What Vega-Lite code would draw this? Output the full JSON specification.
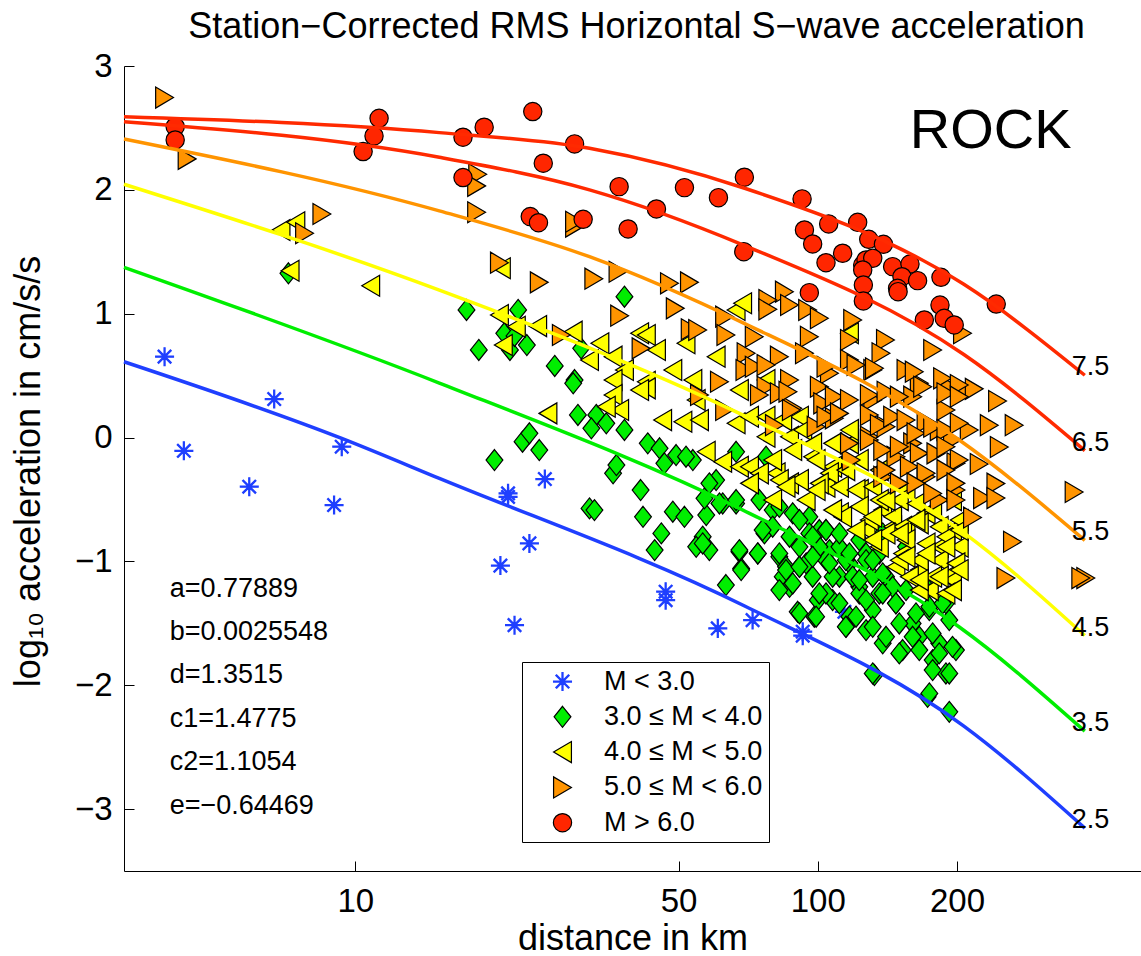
{
"$schema":"https://vega.github.io/schema/vega-lite/v6.json",
"width":1017,"height":805,
"autosize":{"type":"none"},
"padding":{"left":124,"top":66,"right":0,"bottom":85},
"background":"white",
"config":{"view":{"stroke":null},"font":"Liberation Sans"},
"title":{"text":"Station−Corrected RMS Horizontal S−wave acceleration","fontSize":36,"fontWeight":"normal","color":"black","frame":"group","anchor":"middle","baseline":"alphabetic","offset":-24,"dx":4},
"encoding":{
 "x":{"field":"km","type":"quantitative","scale":{"type":"log","domain":[3.1623,500],"nice":false},
  "axis":{"title":"distance in km","values":[10,50,100,200],"format":"d","grid":false,"labelFontSize":33,"titleFontSize":36,"titleFontWeight":"normal","tickSize":-10,"labelPadding":24,"domainColor":"black","tickColor":"black","labelColor":"black","titleColor":"black","titleBaseline":"alphabetic","titleY":78,"labelFlush":false}},
 "y":{"field":"acc","type":"quantitative","scale":{"domain":[-3.5,3],"nice":false},
  "axis":{"title":"log₁₀ acceleration in cm/s/s","values":[-3,-2,-1,0,1,2,3],"format":"d","grid":false,"labelFontSize":33,"titleFontSize":36,"titleFontWeight":"normal","tickSize":-10,"labelPadding":22,"domainColor":"black","tickColor":"black","labelColor":"black","titleColor":"black","titleBaseline":"alphabetic","titleX":-85,"titleY":405,"titleAngle":-90}}
},
"layer":[
{"data":{"values":[
{"km":3.87,"acc":0.653,"cls":"M < 3.0"},{"km":4.26,"acc":-0.107,"cls":"M < 3.0"},{"km":6.68,"acc":0.311,"cls":"M < 3.0"},{"km":5.90,"acc":-0.397,"cls":"M < 3.0"},{"km":9.00,"acc":-0.545,"cls":"M < 3.0"},{"km":9.35,"acc":-0.074,"cls":"M < 3.0"},{"km":21.4,"acc":-0.451,"cls":"M < 3.0"},{"km":21.4,"acc":-0.48,"cls":"M < 3.0"},{"km":25.7,"acc":-0.335,"cls":"M < 3.0"},{"km":23.8,"acc":-0.855,"cls":"M < 3.0"},{"km":20.6,"acc":-1.034,"cls":"M < 3.0"},{"km":22.1,"acc":-1.515,"cls":"M < 3.0"},{"km":46.9,"acc":-1.245,"cls":"M < 3.0"},{"km":46.9,"acc":-1.313,"cls":"M < 3.0"},{"km":60.8,"acc":-1.541,"cls":"M < 3.0"},{"km":72.3,"acc":-1.474,"cls":"M < 3.0"},{"km":92.8,"acc":-1.568,"cls":"M < 3.0"},{"km":92.8,"acc":-1.6,"cls":"M < 3.0"},{"km":114.2,"acc":-1.407,"cls":"M < 3.0"},
{"km":7.17,"acc":1.326,"cls":"3.0 ≤ M < 4.0"},{"km":38.2,"acc":1.137,"cls":"3.0 ≤ M < 4.0"},{"km":17.4,"acc":1.03,"cls":"3.0 ≤ M < 4.0"},{"km":22.5,"acc":1.03,"cls":"3.0 ≤ M < 4.0"},{"km":21.0,"acc":0.842,"cls":"3.0 ≤ M < 4.0"},{"km":18.5,"acc":0.707,"cls":"3.0 ≤ M < 4.0"},{"km":21.6,"acc":0.707,"cls":"3.0 ≤ M < 4.0"},{"km":23.5,"acc":0.747,"cls":"3.0 ≤ M < 4.0"},{"km":27.0,"acc":0.578,"cls":"3.0 ≤ M < 4.0"},{"km":29.8,"acc":0.464,"cls":"3.0 ≤ M < 4.0"},{"km":30.8,"acc":0.72,"cls":"3.0 ≤ M < 4.0"},{"km":22.1,"acc":0.82,"cls":"3.0 ≤ M < 4.0"},{"km":20.0,"acc":-0.182,"cls":"3.0 ≤ M < 4.0"},{"km":23.0,"acc":-0.034,"cls":"3.0 ≤ M < 4.0"},{"km":23.8,"acc":0.034,"cls":"3.0 ≤ M < 4.0"},{"km":25.0,"acc":-0.101,"cls":"3.0 ≤ M < 4.0"},{"km":30.3,"acc":0.182,"cls":"3.0 ≤ M < 4.0"},{"km":33.2,"acc":0.182,"cls":"3.0 ≤ M < 4.0"},{"km":32.4,"acc":0.074,"cls":"3.0 ≤ M < 4.0"},{"km":34.9,"acc":0.115,"cls":"3.0 ≤ M < 4.0"},{"km":38.2,"acc":0.061,"cls":"3.0 ≤ M < 4.0"},{"km":29.6,"acc":0.438,"cls":"3.0 ≤ M < 4.0"},{"km":36.1,"acc":-0.289,"cls":"3.0 ≤ M < 4.0"},{"km":36.7,"acc":-0.222,"cls":"3.0 ≤ M < 4.0"},{"km":32.1,"acc":-0.572,"cls":"3.0 ≤ M < 4.0"},{"km":32.9,"acc":-0.586,"cls":"3.0 ≤ M < 4.0"},{"km":41.4,"acc":-0.424,"cls":"3.0 ≤ M < 4.0"},{"km":41.9,"acc":-0.64,"cls":"3.0 ≤ M < 4.0"},{"km":42.9,"acc":-0.047,"cls":"3.0 ≤ M < 4.0"},{"km":45.5,"acc":-0.087,"cls":"3.0 ≤ M < 4.0"},{"km":46.6,"acc":-0.208,"cls":"3.0 ≤ M < 4.0"},{"km":49.4,"acc":-0.141,"cls":"3.0 ≤ M < 4.0"},{"km":45.9,"acc":-0.774,"cls":"3.0 ≤ M < 4.0"},{"km":44.4,"acc":-0.909,"cls":"3.0 ≤ M < 4.0"},{"km":48.6,"acc":-0.599,"cls":"3.0 ≤ M < 4.0"},{"km":51.5,"acc":-0.64,"cls":"3.0 ≤ M < 4.0"},{"km":56.4,"acc":-0.801,"cls":"3.0 ≤ M < 4.0"},{"km":58.3,"acc":-0.909,"cls":"3.0 ≤ M < 4.0"},{"km":54.6,"acc":-0.882,"cls":"3.0 ≤ M < 4.0"},{"km":57.4,"acc":-0.626,"cls":"3.0 ≤ M < 4.0"},{"km":56.9,"acc":-0.491,"cls":"3.0 ≤ M < 4.0"},{"km":63.3,"acc":-1.191,"cls":"3.0 ≤ M < 4.0"},{"km":67.7,"acc":-0.922,"cls":"3.0 ≤ M < 4.0"},{"km":68.3,"acc":-1.057,"cls":"3.0 ≤ M < 4.0"},{"km":66.6,"acc":-0.532,"cls":"3.0 ≤ M < 4.0"},{"km":62.3,"acc":-0.532,"cls":"3.0 ≤ M < 4.0"},{"km":53.7,"acc":-0.182,"cls":"3.0 ≤ M < 4.0"},{"km":51.9,"acc":-0.155,"cls":"3.0 ≤ M < 4.0"},{"km":66.6,"acc":-0.115,"cls":"3.0 ≤ M < 4.0"},{"km":60.3,"acc":-0.343,"cls":"3.0 ≤ M < 4.0"},{"km":76.7,"acc":-0.774,"cls":"3.0 ≤ M < 4.0"},{"km":74.2,"acc":-0.936,"cls":"3.0 ≤ M < 4.0"},{"km":84.0,"acc":-1.124,"cls":"3.0 ≤ M < 4.0"},{"km":86.9,"acc":-1.205,"cls":"3.0 ≤ M < 4.0"},{"km":90.5,"acc":-1.407,"cls":"3.0 ≤ M < 4.0"},{"km":98.3,"acc":-1.447,"cls":"3.0 ≤ M < 4.0"},{"km":100,"acc":-1.313,"cls":"3.0 ≤ M < 4.0"},{"km":82.6,"acc":-0.963,"cls":"3.0 ≤ M < 4.0"},{"km":91.3,"acc":-1.044,"cls":"3.0 ≤ M < 4.0"},{"km":100.8,"acc":-0.747,"cls":"3.0 ≤ M < 4.0"},{"km":95.9,"acc":-0.64,"cls":"3.0 ≤ M < 4.0"},{"km":79.9,"acc":-0.586,"cls":"3.0 ≤ M < 4.0"},{"km":74.8,"acc":-0.505,"cls":"3.0 ≤ M < 4.0"},{"km":106.0,"acc":-0.909,"cls":"3.0 ≤ M < 4.0"},{"km":111.4,"acc":-1.124,"cls":"3.0 ≤ M < 4.0"},{"km":107.7,"acc":-1.313,"cls":"3.0 ≤ M < 4.0"},{"km":117.1,"acc":-1.016,"cls":"3.0 ≤ M < 4.0"},{"km":127.2,"acc":-0.936,"cls":"3.0 ≤ M < 4.0"},{"km":123.0,"acc":-1.205,"cls":"3.0 ≤ M < 4.0"},{"km":117.1,"acc":-1.447,"cls":"3.0 ≤ M < 4.0"},{"km":115.2,"acc":-1.528,"cls":"3.0 ≤ M < 4.0"},{"km":127.2,"acc":-1.555,"cls":"3.0 ≤ M < 4.0"},{"km":135.9,"acc":-1.259,"cls":"3.0 ≤ M < 4.0"},{"km":131.5,"acc":-1.393,"cls":"3.0 ≤ M < 4.0"},{"km":140.5,"acc":-1.124,"cls":"3.0 ≤ M < 4.0"},{"km":147.6,"acc":-1.339,"cls":"3.0 ≤ M < 4.0"},{"km":138.2,"acc":-1.662,"cls":"3.0 ≤ M < 4.0"},{"km":152.6,"acc":-1.716,"cls":"3.0 ≤ M < 4.0"},{"km":160.4,"acc":-1.501,"cls":"3.0 ≤ M < 4.0"},{"km":165.8,"acc":-1.609,"cls":"3.0 ≤ M < 4.0"},{"km":177.2,"acc":-1.797,"cls":"3.0 ≤ M < 4.0"},{"km":189.3,"acc":-1.905,"cls":"3.0 ≤ M < 4.0"},{"km":183.1,"acc":-1.662,"cls":"3.0 ≤ M < 4.0"},{"km":199.0,"acc":-1.716,"cls":"3.0 ≤ M < 4.0"},{"km":174.3,"acc":-1.393,"cls":"3.0 ≤ M < 4.0"},{"km":189.3,"acc":-1.339,"cls":"3.0 ≤ M < 4.0"},{"km":171.5,"acc":-1.205,"cls":"3.0 ≤ M < 4.0"},{"km":132.6,"acc":-1.918,"cls":"3.0 ≤ M < 4.0"},{"km":172.8,"acc":-2.094,"cls":"3.0 ≤ M < 4.0"},{"km":192.5,"acc":-2.215,"cls":"3.0 ≤ M < 4.0"},{"km":138.2,"acc":-0.774,"cls":"3.0 ≤ M < 4.0"},{"km":155.2,"acc":-0.882,"cls":"3.0 ≤ M < 4.0"},
{"km":77.3,"acc":-0.155,"cls":"3.0 ≤ M < 4.0"},{"km":82.6,"acc":-0.559,"cls":"3.0 ≤ M < 4.0"},{"km":88.3,"acc":-0.612,"cls":"3.0 ≤ M < 4.0"},{"km":79.9,"acc":-0.72,"cls":"3.0 ≤ M < 4.0"},{"km":86.9,"acc":-0.801,"cls":"3.0 ≤ M < 4.0"},{"km":95.9,"acc":-0.774,"cls":"3.0 ≤ M < 4.0"},{"km":104.2,"acc":-0.747,"cls":"3.0 ≤ M < 4.0"},{"km":82.6,"acc":-0.936,"cls":"3.0 ≤ M < 4.0"},{"km":91.3,"acc":-0.882,"cls":"3.0 ≤ M < 4.0"},{"km":100.8,"acc":-0.882,"cls":"3.0 ≤ M < 4.0"},{"km":111.4,"acc":-0.882,"cls":"3.0 ≤ M < 4.0"},{"km":123.0,"acc":-0.828,"cls":"3.0 ≤ M < 4.0"},{"km":85.4,"acc":-1.044,"cls":"3.0 ≤ M < 4.0"},{"km":94.4,"acc":-1.016,"cls":"3.0 ≤ M < 4.0"},{"km":104.2,"acc":-0.99,"cls":"3.0 ≤ M < 4.0"},{"km":115.0,"acc":-0.99,"cls":"3.0 ≤ M < 4.0"},{"km":127.2,"acc":-0.99,"cls":"3.0 ≤ M < 4.0"},{"km":135.9,"acc":-0.936,"cls":"3.0 ≤ M < 4.0"},{"km":88.3,"acc":-1.178,"cls":"3.0 ≤ M < 4.0"},{"km":97.5,"acc":-1.124,"cls":"3.0 ≤ M < 4.0"},{"km":107.7,"acc":-1.124,"cls":"3.0 ≤ M < 4.0"},{"km":119.0,"acc":-1.124,"cls":"3.0 ≤ M < 4.0"},{"km":131.5,"acc":-1.124,"cls":"3.0 ≤ M < 4.0"},{"km":145.2,"acc":-1.205,"cls":"3.0 ≤ M < 4.0"},{"km":82.6,"acc":-1.232,"cls":"3.0 ≤ M < 4.0"},{"km":104.2,"acc":-1.259,"cls":"3.0 ≤ M < 4.0"},{"km":123.0,"acc":-1.259,"cls":"3.0 ≤ M < 4.0"},
{"km":58.3,"acc":-0.37,"cls":"3.0 ≤ M < 4.0"},{"km":61.3,"acc":-0.532,"cls":"3.0 ≤ M < 4.0"},{"km":66.6,"acc":-0.505,"cls":"3.0 ≤ M < 4.0"},{"km":56.4,"acc":-0.855,"cls":"3.0 ≤ M < 4.0"},{"km":67.7,"acc":-0.909,"cls":"3.0 ≤ M < 4.0"},{"km":74.2,"acc":-0.936,"cls":"3.0 ≤ M < 4.0"},{"km":68.3,"acc":-1.07,"cls":"3.0 ≤ M < 4.0"},{"km":76.0,"acc":-0.747,"cls":"3.0 ≤ M < 4.0"},{"km":91.3,"acc":-0.666,"cls":"3.0 ≤ M < 4.0"},{"km":85.4,"acc":-1.07,"cls":"3.0 ≤ M < 4.0"},{"km":91.3,"acc":-1.044,"cls":"3.0 ≤ M < 4.0"},{"km":97.5,"acc":-0.801,"cls":"3.0 ≤ M < 4.0"},{"km":97.5,"acc":-0.963,"cls":"3.0 ≤ M < 4.0"},{"km":104.2,"acc":-0.747,"cls":"3.0 ≤ M < 4.0"},{"km":106.0,"acc":-1.016,"cls":"3.0 ≤ M < 4.0"},{"km":111.4,"acc":-0.774,"cls":"3.0 ≤ M < 4.0"},{"km":117.1,"acc":-0.936,"cls":"3.0 ≤ M < 4.0"},{"km":123.0,"acc":-1.151,"cls":"3.0 ≤ M < 4.0"},{"km":131.5,"acc":-0.99,"cls":"3.0 ≤ M < 4.0"},{"km":138.2,"acc":-1.097,"cls":"3.0 ≤ M < 4.0"},{"km":100.8,"acc":-1.259,"cls":"3.0 ≤ M < 4.0"},{"km":91.3,"acc":-1.42,"cls":"3.0 ≤ M < 4.0"},{"km":99.2,"acc":-1.447,"cls":"3.0 ≤ M < 4.0"},{"km":111.4,"acc":-1.339,"cls":"3.0 ≤ M < 4.0"},{"km":115.0,"acc":-1.528,"cls":"3.0 ≤ M < 4.0"},{"km":121.0,"acc":-1.447,"cls":"3.0 ≤ M < 4.0"},{"km":127.2,"acc":-1.313,"cls":"3.0 ≤ M < 4.0"},{"km":138.2,"acc":-1.259,"cls":"3.0 ≤ M < 4.0"},{"km":147.6,"acc":-1.339,"cls":"3.0 ≤ M < 4.0"},{"km":155.2,"acc":-1.232,"cls":"3.0 ≤ M < 4.0"},{"km":131.5,"acc":-1.528,"cls":"3.0 ≤ M < 4.0"},{"km":140.5,"acc":-1.609,"cls":"3.0 ≤ M < 4.0"},{"km":150.1,"acc":-1.501,"cls":"3.0 ≤ M < 4.0"},{"km":163.1,"acc":-1.42,"cls":"3.0 ≤ M < 4.0"},{"km":174.3,"acc":-1.367,"cls":"3.0 ≤ M < 4.0"},{"km":186.2,"acc":-1.339,"cls":"3.0 ≤ M < 4.0"},{"km":192.5,"acc":-1.474,"cls":"3.0 ≤ M < 4.0"},{"km":160.4,"acc":-1.609,"cls":"3.0 ≤ M < 4.0"},{"km":177.2,"acc":-1.582,"cls":"3.0 ≤ M < 4.0"},{"km":183.1,"acc":-1.743,"cls":"3.0 ≤ M < 4.0"},{"km":195.6,"acc":-1.69,"cls":"3.0 ≤ M < 4.0"},{"km":150.1,"acc":-1.743,"cls":"3.0 ≤ M < 4.0"},{"km":165.8,"acc":-1.716,"cls":"3.0 ≤ M < 4.0"},{"km":177.2,"acc":-1.878,"cls":"3.0 ≤ M < 4.0"},{"km":192.5,"acc":-1.905,"cls":"3.0 ≤ M < 4.0"},{"km":131.5,"acc":-1.905,"cls":"3.0 ≤ M < 4.0"},{"km":174.3,"acc":-2.066,"cls":"3.0 ≤ M < 4.0"},
{"km":6.91,"acc":1.676,"cls":"4.0 ≤ M < 5.0"},{"km":7.44,"acc":1.738,"cls":"4.0 ≤ M < 5.0"},{"km":7.23,"acc":1.347,"cls":"4.0 ≤ M < 5.0"},{"km":10.8,"acc":1.226,"cls":"4.0 ≤ M < 5.0"},{"km":20.7,"acc":1.367,"cls":"4.0 ≤ M < 5.0"},{"km":66.6,"acc":1.03,"cls":"4.0 ≤ M < 5.0"},{"km":20.5,"acc":0.99,"cls":"4.0 ≤ M < 5.0"},{"km":22.3,"acc":0.895,"cls":"4.0 ≤ M < 5.0"},{"km":24.8,"acc":0.9,"cls":"4.0 ≤ M < 5.0"},{"km":20.9,"acc":0.747,"cls":"4.0 ≤ M < 5.0"},{"km":29.6,"acc":0.855,"cls":"4.0 ≤ M < 5.0"},{"km":33.8,"acc":0.761,"cls":"4.0 ≤ M < 5.0"},{"km":36.1,"acc":0.653,"cls":"4.0 ≤ M < 5.0"},{"km":32.1,"acc":0.626,"cls":"4.0 ≤ M < 5.0"},{"km":41.2,"acc":0.842,"cls":"4.0 ≤ M < 5.0"},{"km":44.8,"acc":0.707,"cls":"4.0 ≤ M < 5.0"},{"km":51.9,"acc":0.761,"cls":"4.0 ≤ M < 5.0"},{"km":60.3,"acc":0.653,"cls":"4.0 ≤ M < 5.0"},{"km":38.2,"acc":0.545,"cls":"4.0 ≤ M < 5.0"},{"km":48.6,"acc":0.545,"cls":"4.0 ≤ M < 5.0"},{"km":42.6,"acc":0.451,"cls":"4.0 ≤ M < 5.0"},{"km":36.1,"acc":0.464,"cls":"4.0 ≤ M < 5.0"},{"km":53.7,"acc":0.464,"cls":"4.0 ≤ M < 5.0"},{"km":42.6,"acc":0.828,"cls":"4.0 ≤ M < 5.0"},{"km":26.1,"acc":0.195,"cls":"4.0 ≤ M < 5.0"},{"km":36.1,"acc":0.343,"cls":"4.0 ≤ M < 5.0"},{"km":37.3,"acc":0.222,"cls":"4.0 ≤ M < 5.0"},{"km":46.2,"acc":0.141,"cls":"4.0 ≤ M < 5.0"},{"km":51.1,"acc":0.128,"cls":"4.0 ≤ M < 5.0"},{"km":55.5,"acc":0.141,"cls":"4.0 ≤ M < 5.0"},{"km":57.4,"acc":-0.115,"cls":"4.0 ≤ M < 5.0"},{"km":62.3,"acc":-0.195,"cls":"4.0 ≤ M < 5.0"},{"km":67.7,"acc":-0.236,"cls":"4.0 ≤ M < 5.0"},{"km":42.6,"acc":0.397,"cls":"4.0 ≤ M < 5.0"},{"km":54.6,"acc":0.303,"cls":"4.0 ≤ M < 5.0"},{"km":66.6,"acc":0.115,"cls":"4.0 ≤ M < 5.0"},{"km":67.7,"acc":0.384,"cls":"4.0 ≤ M < 5.0"},{"km":41.2,"acc":0.384,"cls":"4.0 ≤ M < 5.0"},{"km":34.9,"acc":0.249,"cls":"4.0 ≤ M < 5.0"},{"km":71.2,"acc":0.168,"cls":"4.0 ≤ M < 5.0"},{"km":77.3,"acc":0.006,"cls":"4.0 ≤ M < 5.0"},{"km":71.2,"acc":-0.236,"cls":"4.0 ≤ M < 5.0"},{"km":86.9,"acc":0.006,"cls":"4.0 ≤ M < 5.0"},{"km":91.3,"acc":0.168,"cls":"4.0 ≤ M < 5.0"},{"km":97.5,"acc":-0.155,"cls":"4.0 ≤ M < 5.0"},{"km":86.9,"acc":-0.37,"cls":"4.0 ≤ M < 5.0"},{"km":81.3,"acc":-0.289,"cls":"4.0 ≤ M < 5.0"},{"km":104.2,"acc":-0.397,"cls":"4.0 ≤ M < 5.0"},{"km":111.4,"acc":-0.612,"cls":"4.0 ≤ M < 5.0"},{"km":127.2,"acc":-0.747,"cls":"4.0 ≤ M < 5.0"},{"km":138.2,"acc":-0.586,"cls":"4.0 ≤ M < 5.0"},{"km":123.0,"acc":-0.424,"cls":"4.0 ≤ M < 5.0"},{"km":135.9,"acc":-0.263,"cls":"4.0 ≤ M < 5.0"},{"km":155.2,"acc":-0.424,"cls":"4.0 ≤ M < 5.0"},{"km":171.5,"acc":-0.612,"cls":"4.0 ≤ M < 5.0"},{"km":183.1,"acc":-0.882,"cls":"4.0 ≤ M < 5.0"},{"km":152.6,"acc":-0.936,"cls":"4.0 ≤ M < 5.0"},{"km":165.8,"acc":-1.07,"cls":"4.0 ≤ M < 5.0"},{"km":189.3,"acc":-1.124,"cls":"4.0 ≤ M < 5.0"},{"km":174.3,"acc":-1.232,"cls":"4.0 ≤ M < 5.0"},{"km":147.6,"acc":-1.044,"cls":"4.0 ≤ M < 5.0"},{"km":155.2,"acc":-0.747,"cls":"4.0 ≤ M < 5.0"},{"km":195.6,"acc":-0.747,"cls":"4.0 ≤ M < 5.0"},{"km":117.1,"acc":-0.047,"cls":"4.0 ≤ M < 5.0"},{"km":107.7,"acc":-0.236,"cls":"4.0 ≤ M < 5.0"},{"km":94.4,"acc":-0.505,"cls":"4.0 ≤ M < 5.0"},{"km":79.9,"acc":-0.505,"cls":"4.0 ≤ M < 5.0"},{"km":74.8,"acc":-0.289,"cls":"4.0 ≤ M < 5.0"},{"km":135.9,"acc":-0.882,"cls":"4.0 ≤ M < 5.0"},{"km":145.2,"acc":-0.72,"cls":"4.0 ≤ M < 5.0"},{"km":68.8,"acc":1.084,"cls":"4.0 ≤ M < 5.0"},{"km":117.1,"acc":0.842,"cls":"4.0 ≤ M < 5.0"},
{"km":77.3,"acc":0.464,"cls":"4.0 ≤ M < 5.0"},{"km":77.3,"acc":0.168,"cls":"4.0 ≤ M < 5.0"},{"km":84.0,"acc":0.141,"cls":"4.0 ≤ M < 5.0"},{"km":92.8,"acc":0.061,"cls":"4.0 ≤ M < 5.0"},{"km":97.5,"acc":-0.047,"cls":"4.0 ≤ M < 5.0"},{"km":107.7,"acc":-0.047,"cls":"4.0 ≤ M < 5.0"},{"km":117.1,"acc":0.061,"cls":"4.0 ≤ M < 5.0"},{"km":79.9,"acc":-0.182,"cls":"4.0 ≤ M < 5.0"},{"km":88.3,"acc":-0.101,"cls":"4.0 ≤ M < 5.0"},{"km":99.2,"acc":-0.182,"cls":"4.0 ≤ M < 5.0"},{"km":106.0,"acc":-0.289,"cls":"4.0 ≤ M < 5.0"},{"km":115.0,"acc":-0.263,"cls":"4.0 ≤ M < 5.0"},{"km":123.0,"acc":-0.182,"cls":"4.0 ≤ M < 5.0"},{"km":82.6,"acc":-0.343,"cls":"4.0 ≤ M < 5.0"},{"km":91.3,"acc":-0.343,"cls":"4.0 ≤ M < 5.0"},{"km":100.8,"acc":-0.37,"cls":"4.0 ≤ M < 5.0"},{"km":111.4,"acc":-0.397,"cls":"4.0 ≤ M < 5.0"},{"km":121.0,"acc":-0.424,"cls":"4.0 ≤ M < 5.0"},{"km":131.5,"acc":-0.397,"cls":"4.0 ≤ M < 5.0"},{"km":135.9,"acc":-0.505,"cls":"4.0 ≤ M < 5.0"},{"km":150.1,"acc":-0.505,"cls":"4.0 ≤ M < 5.0"},{"km":163.1,"acc":-0.532,"cls":"4.0 ≤ M < 5.0"},{"km":123.0,"acc":-0.559,"cls":"4.0 ≤ M < 5.0"},{"km":113.2,"acc":-0.64,"cls":"4.0 ≤ M < 5.0"},{"km":129.3,"acc":-0.666,"cls":"4.0 ≤ M < 5.0"},{"km":145.2,"acc":-0.64,"cls":"4.0 ≤ M < 5.0"},{"km":152.6,"acc":-0.72,"cls":"4.0 ≤ M < 5.0"},{"km":165.8,"acc":-0.693,"cls":"4.0 ≤ M < 5.0"},{"km":183.1,"acc":-0.72,"cls":"4.0 ≤ M < 5.0"},{"km":140.5,"acc":-0.774,"cls":"4.0 ≤ M < 5.0"},{"km":131.5,"acc":-0.828,"cls":"4.0 ≤ M < 5.0"},{"km":155.2,"acc":-0.828,"cls":"4.0 ≤ M < 5.0"},{"km":171.5,"acc":-0.855,"cls":"4.0 ≤ M < 5.0"},{"km":189.3,"acc":-0.801,"cls":"4.0 ≤ M < 5.0"},{"km":202.3,"acc":-0.882,"cls":"4.0 ≤ M < 5.0"},{"km":150.1,"acc":-0.99,"cls":"4.0 ≤ M < 5.0"},{"km":165.8,"acc":-0.99,"cls":"4.0 ≤ M < 5.0"},{"km":183.1,"acc":-0.99,"cls":"4.0 ≤ M < 5.0"},{"km":199.0,"acc":-1.016,"cls":"4.0 ≤ M < 5.0"},{"km":157.8,"acc":-1.124,"cls":"4.0 ≤ M < 5.0"},{"km":177.2,"acc":-1.124,"cls":"4.0 ≤ M < 5.0"},{"km":195.6,"acc":-1.151,"cls":"4.0 ≤ M < 5.0"},{"km":165.8,"acc":-1.232,"cls":"4.0 ≤ M < 5.0"},{"km":189.3,"acc":-1.259,"cls":"4.0 ≤ M < 5.0"},{"km":202.3,"acc":-0.666,"cls":"4.0 ≤ M < 5.0"},
{"km":71.2,"acc":-0.37,"cls":"4.0 ≤ M < 5.0"},{"km":85.4,"acc":-0.397,"cls":"4.0 ≤ M < 5.0"},{"km":99.2,"acc":-0.424,"cls":"4.0 ≤ M < 5.0"},{"km":107.7,"acc":-0.586,"cls":"4.0 ≤ M < 5.0"},{"km":121.0,"acc":-0.747,"cls":"4.0 ≤ M < 5.0"},{"km":131.5,"acc":-0.64,"cls":"4.0 ≤ M < 5.0"},{"km":140.5,"acc":-0.505,"cls":"4.0 ≤ M < 5.0"},{"km":150.1,"acc":-0.774,"cls":"4.0 ≤ M < 5.0"},{"km":163.1,"acc":-0.666,"cls":"4.0 ≤ M < 5.0"},{"km":177.2,"acc":-0.586,"cls":"4.0 ≤ M < 5.0"},{"km":195.6,"acc":-0.505,"cls":"4.0 ≤ M < 5.0"},{"km":155.2,"acc":-0.963,"cls":"4.0 ≤ M < 5.0"},{"km":171.5,"acc":-0.936,"cls":"4.0 ≤ M < 5.0"},{"km":189.3,"acc":-0.882,"cls":"4.0 ≤ M < 5.0"},{"km":202.3,"acc":-0.747,"cls":"4.0 ≤ M < 5.0"},{"km":165.8,"acc":-1.151,"cls":"4.0 ≤ M < 5.0"},{"km":183.1,"acc":-1.124,"cls":"4.0 ≤ M < 5.0"},{"km":202.3,"acc":-1.07,"cls":"4.0 ≤ M < 5.0"},{"km":195.6,"acc":-1.232,"cls":"4.0 ≤ M < 5.0"},
{"km":3.87,"acc":2.745,"cls":"5.0 ≤ M < 6.0"},{"km":4.33,"acc":2.25,"cls":"5.0 ≤ M < 6.0"},{"km":8.47,"acc":1.805,"cls":"5.0 ≤ M < 6.0"},{"km":7.77,"acc":1.649,"cls":"5.0 ≤ M < 6.0"},{"km":18.4,"acc":2.126,"cls":"5.0 ≤ M < 6.0"},{"km":18.3,"acc":2.032,"cls":"5.0 ≤ M < 6.0"},{"km":18.3,"acc":1.819,"cls":"5.0 ≤ M < 6.0"},{"km":29.8,"acc":1.703,"cls":"5.0 ≤ M < 6.0"},{"km":29.8,"acc":1.743,"cls":"5.0 ≤ M < 6.0"},{"km":20.5,"acc":1.412,"cls":"5.0 ≤ M < 6.0"},{"km":25.0,"acc":1.253,"cls":"5.0 ≤ M < 6.0"},{"km":32.8,"acc":1.283,"cls":"5.0 ≤ M < 6.0"},{"km":37.0,"acc":1.339,"cls":"5.0 ≤ M < 6.0"},{"km":47.8,"acc":1.245,"cls":"5.0 ≤ M < 6.0"},{"km":52.8,"acc":1.253,"cls":"5.0 ≤ M < 6.0"},{"km":37.3,"acc":0.984,"cls":"5.0 ≤ M < 6.0"},{"km":49.2,"acc":1.043,"cls":"5.0 ≤ M < 6.0"},{"km":53.0,"acc":0.874,"cls":"5.0 ≤ M < 6.0"},{"km":55.0,"acc":0.868,"cls":"5.0 ≤ M < 6.0"},{"km":62.9,"acc":0.976,"cls":"5.0 ≤ M < 6.0"},{"km":63.3,"acc":0.828,"cls":"5.0 ≤ M < 6.0"},{"km":27.9,"acc":0.828,"cls":"5.0 ≤ M < 6.0"},{"km":41.5,"acc":0.72,"cls":"5.0 ≤ M < 6.0"},{"km":61.3,"acc":0.451,"cls":"5.0 ≤ M < 6.0"},{"km":70.0,"acc":0.68,"cls":"5.0 ≤ M < 6.0"},{"km":69.6,"acc":0.545,"cls":"5.0 ≤ M < 6.0"},{"km":84.7,"acc":1.178,"cls":"5.0 ≤ M < 6.0"},{"km":78.0,"acc":1.11,"cls":"5.0 ≤ M < 6.0"},{"km":86.9,"acc":1.07,"cls":"5.0 ≤ M < 6.0"},{"km":78.0,"acc":1.035,"cls":"5.0 ≤ M < 6.0"},{"km":95.1,"acc":1.03,"cls":"5.0 ≤ M < 6.0"},{"km":100.8,"acc":0.963,"cls":"5.0 ≤ M < 6.0"},{"km":119.0,"acc":0.949,"cls":"5.0 ≤ M < 6.0"},{"km":140.1,"acc":0.788,"cls":"5.0 ≤ M < 6.0"},{"km":177.2,"acc":0.707,"cls":"5.0 ≤ M < 6.0"},{"km":205.6,"acc":0.842,"cls":"5.0 ≤ M < 6.0"},{"km":95.9,"acc":0.814,"cls":"5.0 ≤ M < 6.0"},{"km":93.6,"acc":0.68,"cls":"5.0 ≤ M < 6.0"},{"km":72.9,"acc":0.814,"cls":"5.0 ≤ M < 6.0"},{"km":82.6,"acc":0.653,"cls":"5.0 ≤ M < 6.0"},{"km":72.9,"acc":0.572,"cls":"5.0 ≤ M < 6.0"},{"km":117.1,"acc":0.788,"cls":"5.0 ≤ M < 6.0"},{"km":137.0,"acc":0.68,"cls":"5.0 ≤ M < 6.0"},{"km":117.1,"acc":0.626,"cls":"5.0 ≤ M < 6.0"},{"km":106.0,"acc":0.519,"cls":"5.0 ≤ M < 6.0"},{"km":131.5,"acc":0.545,"cls":"5.0 ≤ M < 6.0"},{"km":155.2,"acc":0.545,"cls":"5.0 ≤ M < 6.0"},{"km":165.8,"acc":0.438,"cls":"5.0 ≤ M < 6.0"},{"km":192.5,"acc":0.41,"cls":"5.0 ≤ M < 6.0"},{"km":86.9,"acc":0.464,"cls":"5.0 ≤ M < 6.0"},{"km":100.8,"acc":0.41,"cls":"5.0 ≤ M < 6.0"},{"km":77.3,"acc":0.41,"cls":"5.0 ≤ M < 6.0"},{"km":82.6,"acc":0.357,"cls":"5.0 ≤ M < 6.0"},{"km":88.3,"acc":0.236,"cls":"5.0 ≤ M < 6.0"},{"km":102.5,"acc":0.276,"cls":"5.0 ≤ M < 6.0"},{"km":108.6,"acc":0.155,"cls":"5.0 ≤ M < 6.0"},{"km":131.5,"acc":0.303,"cls":"5.0 ≤ M < 6.0"},{"km":129.3,"acc":0.006,"cls":"5.0 ≤ M < 6.0"},{"km":140.5,"acc":0.087,"cls":"5.0 ≤ M < 6.0"},{"km":160.4,"acc":0.33,"cls":"5.0 ≤ M < 6.0"},{"km":171.5,"acc":0.128,"cls":"5.0 ≤ M < 6.0"},{"km":189.3,"acc":0.222,"cls":"5.0 ≤ M < 6.0"},{"km":195.6,"acc":-0.02,"cls":"5.0 ≤ M < 6.0"},{"km":199.0,"acc":-0.208,"cls":"5.0 ≤ M < 6.0"},{"km":147.6,"acc":-0.155,"cls":"5.0 ≤ M < 6.0"},{"km":138.2,"acc":-0.317,"cls":"5.0 ≤ M < 6.0"},{"km":171.5,"acc":-0.317,"cls":"5.0 ≤ M < 6.0"},{"km":183.1,"acc":-0.505,"cls":"5.0 ≤ M < 6.0"},{"km":118.1,"acc":-0.182,"cls":"5.0 ≤ M < 6.0"},{"km":199.0,"acc":-0.424,"cls":"5.0 ≤ M < 6.0"},{"km":99.2,"acc":0.087,"cls":"5.0 ≤ M < 6.0"},{"km":117.1,"acc":-0.047,"cls":"5.0 ≤ M < 6.0"},{"km":183.1,"acc":0.06,"cls":"5.0 ≤ M < 6.0"},{"km":160.4,"acc":-0.047,"cls":"5.0 ≤ M < 6.0"},{"km":209.2,"acc":0.373,"cls":"5.0 ≤ M < 6.0"},{"km":218.0,"acc":0.393,"cls":"5.0 ≤ M < 6.0"},{"km":244.8,"acc":0.295,"cls":"5.0 ≤ M < 6.0"},{"km":212.6,"acc":0.061,"cls":"5.0 ≤ M < 6.0"},{"km":234.9,"acc":0.1,"cls":"5.0 ≤ M < 6.0"},{"km":265.9,"acc":0.1,"cls":"5.0 ≤ M < 6.0"},{"km":246.9,"acc":-0.077,"cls":"5.0 ≤ M < 6.0"},{"km":223.4,"acc":-0.214,"cls":"5.0 ≤ M < 6.0"},{"km":242.8,"acc":-0.372,"cls":"5.0 ≤ M < 6.0"},{"km":227.2,"acc":-0.489,"cls":"5.0 ≤ M < 6.0"},{"km":242.8,"acc":-0.489,"cls":"5.0 ≤ M < 6.0"},{"km":216.1,"acc":-0.646,"cls":"5.0 ≤ M < 6.0"},{"km":263.7,"acc":-0.842,"cls":"5.0 ≤ M < 6.0"},{"km":255.2,"acc":-1.135,"cls":"5.0 ≤ M < 6.0"},{"km":358.4,"acc":-0.44,"cls":"5.0 ≤ M < 6.0"},{"km":379.8,"acc":-1.135,"cls":"5.0 ≤ M < 6.0"},{"km":370.5,"acc":-1.135,"cls":"5.0 ≤ M < 6.0"},{"km":55.5,"acc":0.343,"cls":"5.0 ≤ M < 6.0"},{"km":62.9,"acc":0.222,"cls":"5.0 ≤ M < 6.0"},{"km":74.8,"acc":0.343,"cls":"5.0 ≤ M < 6.0"},{"km":80.6,"acc":0.1,"cls":"5.0 ≤ M < 6.0"},
{"km":77.3,"acc":0.586,"cls":"5.0 ≤ M < 6.0"},{"km":104.2,"acc":0.572,"cls":"5.0 ≤ M < 6.0"},{"km":121.0,"acc":0.586,"cls":"5.0 ≤ M < 6.0"},{"km":132.6,"acc":0.559,"cls":"5.0 ≤ M < 6.0"},{"km":161.7,"acc":0.532,"cls":"5.0 ≤ M < 6.0"},{"km":186.2,"acc":0.478,"cls":"5.0 ≤ M < 6.0"},{"km":202.3,"acc":0.424,"cls":"5.0 ≤ M < 6.0"},{"km":86.2,"acc":0.37,"cls":"5.0 ≤ M < 6.0"},{"km":108.6,"acc":0.33,"cls":"5.0 ≤ M < 6.0"},{"km":117.1,"acc":0.303,"cls":"5.0 ≤ M < 6.0"},{"km":129.3,"acc":0.343,"cls":"5.0 ≤ M < 6.0"},{"km":140.5,"acc":0.37,"cls":"5.0 ≤ M < 6.0"},{"km":150.1,"acc":0.33,"cls":"5.0 ≤ M < 6.0"},{"km":168.6,"acc":0.41,"cls":"5.0 ≤ M < 6.0"},{"km":189.3,"acc":0.357,"cls":"5.0 ≤ M < 6.0"},{"km":202.3,"acc":0.33,"cls":"5.0 ≤ M < 6.0"},{"km":87.7,"acc":0.222,"cls":"5.0 ≤ M < 6.0"},{"km":104.2,"acc":0.168,"cls":"5.0 ≤ M < 6.0"},{"km":111.4,"acc":0.195,"cls":"5.0 ≤ M < 6.0"},{"km":129.3,"acc":0.182,"cls":"5.0 ≤ M < 6.0"},{"km":135.9,"acc":0.101,"cls":"5.0 ≤ M < 6.0"},{"km":145.2,"acc":0.168,"cls":"5.0 ≤ M < 6.0"},{"km":155.2,"acc":0.141,"cls":"5.0 ≤ M < 6.0"},{"km":163.1,"acc":0.034,"cls":"5.0 ≤ M < 6.0"},{"km":177.2,"acc":0.087,"cls":"5.0 ≤ M < 6.0"},{"km":189.3,"acc":0.061,"cls":"5.0 ≤ M < 6.0"},{"km":202.3,"acc":0.115,"cls":"5.0 ≤ M < 6.0"},{"km":129.3,"acc":-0.02,"cls":"5.0 ≤ M < 6.0"},{"km":138.2,"acc":-0.101,"cls":"5.0 ≤ M < 6.0"},{"km":150.1,"acc":-0.074,"cls":"5.0 ≤ M < 6.0"},{"km":165.8,"acc":-0.128,"cls":"5.0 ≤ M < 6.0"},{"km":180.1,"acc":-0.128,"cls":"5.0 ≤ M < 6.0"},{"km":189.3,"acc":-0.074,"cls":"5.0 ≤ M < 6.0"},{"km":202.3,"acc":-0.182,"cls":"5.0 ≤ M < 6.0"},{"km":140.5,"acc":-0.263,"cls":"5.0 ≤ M < 6.0"},{"km":157.8,"acc":-0.236,"cls":"5.0 ≤ M < 6.0"},{"km":171.5,"acc":-0.289,"cls":"5.0 ≤ M < 6.0"},{"km":189.3,"acc":-0.263,"cls":"5.0 ≤ M < 6.0"},{"km":199.0,"acc":-0.37,"cls":"5.0 ≤ M < 6.0"},{"km":177.2,"acc":-0.451,"cls":"5.0 ≤ M < 6.0"},{"km":199.0,"acc":-0.505,"cls":"5.0 ≤ M < 6.0"},{"km":163.1,"acc":-0.37,"cls":"5.0 ≤ M < 6.0"},{"km":150.1,"acc":-0.37,"cls":"5.0 ≤ M < 6.0"},
{"km":4.08,"acc":2.51,"cls":"M > 6.0"},{"km":4.08,"acc":2.403,"cls":"M > 6.0"},{"km":11.26,"acc":2.578,"cls":"M > 6.0"},{"km":10.98,"acc":2.435,"cls":"M > 6.0"},{"km":10.40,"acc":2.309,"cls":"M > 6.0"},{"km":17.1,"acc":2.425,"cls":"M > 6.0"},{"km":19.0,"acc":2.506,"cls":"M > 6.0"},{"km":17.1,"acc":2.099,"cls":"M > 6.0"},{"km":24.2,"acc":2.632,"cls":"M > 6.0"},{"km":29.8,"acc":2.371,"cls":"M > 6.0"},{"km":25.5,"acc":2.215,"cls":"M > 6.0"},{"km":23.9,"acc":1.784,"cls":"M > 6.0"},{"km":24.9,"acc":1.735,"cls":"M > 6.0"},{"km":31.1,"acc":1.762,"cls":"M > 6.0"},{"km":37.2,"acc":2.026,"cls":"M > 6.0"},{"km":38.9,"acc":1.684,"cls":"M > 6.0"},{"km":44.8,"acc":1.846,"cls":"M > 6.0"},{"km":51.5,"acc":2.018,"cls":"M > 6.0"},{"km":61.0,"acc":1.937,"cls":"M > 6.0"},{"km":69.4,"acc":2.102,"cls":"M > 6.0"},{"km":69.2,"acc":1.501,"cls":"M > 6.0"},{"km":92.5,"acc":1.927,"cls":"M > 6.0"},{"km":93.6,"acc":1.676,"cls":"M > 6.0"},{"km":97.5,"acc":1.563,"cls":"M > 6.0"},{"km":104.2,"acc":1.412,"cls":"M > 6.0"},{"km":105.6,"acc":1.725,"cls":"M > 6.0"},{"km":113.2,"acc":1.488,"cls":"M > 6.0"},{"km":122.0,"acc":1.738,"cls":"M > 6.0"},{"km":128.9,"acc":1.601,"cls":"M > 6.0"},{"km":138.7,"acc":1.56,"cls":"M > 6.0"},{"km":125.1,"acc":1.393,"cls":"M > 6.0"},{"km":127.2,"acc":1.434,"cls":"M > 6.0"},{"km":131.5,"acc":1.447,"cls":"M > 6.0"},{"km":125.1,"acc":1.353,"cls":"M > 6.0"},{"km":125.5,"acc":1.232,"cls":"M > 6.0"},{"km":125.5,"acc":1.103,"cls":"M > 6.0"},{"km":145.2,"acc":1.38,"cls":"M > 6.0"},{"km":158.3,"acc":1.401,"cls":"M > 6.0"},{"km":152.1,"acc":1.299,"cls":"M > 6.0"},{"km":164.4,"acc":1.267,"cls":"M > 6.0"},{"km":148.8,"acc":1.205,"cls":"M > 6.0"},{"km":149.2,"acc":1.178,"cls":"M > 6.0"},{"km":184.7,"acc":1.294,"cls":"M > 6.0"},{"km":183.8,"acc":1.07,"cls":"M > 6.0"},{"km":170,"acc":0.949,"cls":"M > 6.0"},{"km":187.7,"acc":0.963,"cls":"M > 6.0"},{"km":197.3,"acc":0.909,"cls":"M > 6.0"},{"km":95.9,"acc":1.17,"cls":"M > 6.0"},{"km":243.2,"acc":1.078,"cls":"M > 6.0"}
]},
"mark":{"type":"point","filled":true,"size":441,"strokeWidth":1.2,"opacity":1},
"encoding":{
 "shape":{"field":"cls","type":"nominal","scale":{"domain":["M < 3.0","3.0 ≤ M < 4.0","4.0 ≤ M < 5.0","5.0 ≤ M < 6.0","M > 6.0"],"range":["M-0.85,-0.05L0.85,-0.05L0.85,0.05L-0.85,0.05ZM-0.05,-0.85L0.05,-0.85L0.05,0.85L-0.05,0.85ZM-0.64,-0.56L0.56,0.64L0.64,0.56L-0.56,-0.64ZM-0.56,0.64L0.64,-0.56L0.56,-0.64L-0.64,0.56Z","M0,-1L0.8,0L0,1L-0.8,0Z","M-0.85,0L0.85,-1L0.85,1Z","M0.85,0L-0.85,-1L-0.85,1Z","M0.87,0A0.87,0.87,0,1,1,-0.87,0A0.87,0.87,0,1,1,0.87,0Z"]},
  "legend":{"orient":"none","legendX":398,"legendY":596,"title":null,"strokeColor":"black","fillColor":"white","padding":6,"rowPadding":7.3,"labelFontSize":27,"labelColor":"black","symbolSize":441,"symbolStrokeWidth":1.2,"symbolOffset":21,"labelOffset":28,"labelLimit":400}},
 "fill":{"field":"cls","type":"nominal","scale":{"domain":["M < 3.0","3.0 ≤ M < 4.0","4.0 ≤ M < 5.0","5.0 ≤ M < 6.0","M > 6.0"],"range":["#1f3fff","#00ee00","#ffff00","#ff9400","#ff2600"]},
  "legend":{"orient":"none","legendX":398,"legendY":596,"title":null,"strokeColor":"black","fillColor":"white","padding":6,"rowPadding":7.3,"labelFontSize":27,"labelColor":"black","symbolSize":441,"symbolStrokeWidth":1.2,"symbolOffset":21,"labelOffset":28,"labelLimit":400}},
 "stroke":{"field":"cls","type":"nominal","scale":{"domain":["M < 3.0","3.0 ≤ M < 4.0","4.0 ≤ M < 5.0","5.0 ≤ M < 6.0","M > 6.0"],"range":["#1f3fff","#000000","#000000","#000000","#000000"]},
  "legend":{"orient":"none","legendX":398,"legendY":596,"title":null,"strokeColor":"black","fillColor":"white","padding":6,"rowPadding":7.3,"labelFontSize":27,"labelColor":"black","symbolSize":441,"symbolStrokeWidth":1.2,"symbolOffset":21,"labelOffset":28,"labelLimit":400}}
}},
{"data":{"values":[
{"km":3.162,"acc":0.612,"M":"2.5"},{"km":9.35,"acc":-0.007,"M":"2.5"},{"km":15.2,"acc":-0.33,"M":"2.5"},{"km":69.5,"acc":-1.36,"M":"2.5"},{"km":207,"acc":-2.33,"M":"2.5"},{"km":378,"acc":-3.154,"M":"2.5"},
{"km":3.162,"acc":1.375,"M":"3.5"},{"km":15.2,"acc":0.44,"M":"3.5"},{"km":71.2,"acc":-0.612,"M":"3.5"},{"km":202.3,"acc":-1.53,"M":"3.5"},{"km":378,"acc":-2.371,"M":"3.5"},
{"km":3.162,"acc":2.045,"M":"4.5"},{"km":15.2,"acc":1.19,"M":"4.5"},{"km":67.7,"acc":0.195,"M":"4.5"},{"km":207,"acc":-0.77,"M":"4.5"},{"km":378,"acc":-1.599,"M":"4.5"},
{"km":3.162,"acc":2.41,"M":"5.5"},{"km":15.2,"acc":1.83,"M":"5.5"},{"km":32.1,"acc":1.46,"M":"5.5"},{"km":69.5,"acc":0.92,"M":"5.5"},{"km":202.3,"acc":-0.02,"M":"5.5"},{"km":378,"acc":-0.83,"M":"5.5"},
{"km":3.162,"acc":2.55,"M":"6.5"},{"km":15.2,"acc":2.263,"M":"6.5"},{"km":32.1,"acc":2.0,"M":"6.5"},{"km":69.5,"acc":1.55,"M":"6.5"},{"km":207,"acc":0.67,"M":"6.5"},{"km":378,"acc":-0.105,"M":"6.5"},
{"km":3.162,"acc":2.59,"M":"7.5"},{"km":15.2,"acc":2.462,"M":"7.5"},{"km":32.1,"acc":2.336,"M":"7.5"},{"km":69.5,"acc":2.013,"M":"7.5"},{"km":207,"acc":1.237,"M":"7.5"},{"km":378,"acc":0.503,"M":"7.5"}
]},
"mark":{"type":"line","strokeWidth":3.5,"interpolate":"monotone"},
"encoding":{"color":{"field":"M","type":"nominal","scale":{"domain":["2.5","3.5","4.5","5.5","6.5","7.5"],"range":["#1f3fff","#00ee00","#ffff00","#ff9400","#ff2a00","#ff2a00"]},"legend":null}}},
{"data":{"values":[
{"km":378,"acc":0.503,"lab":"7.5"},{"km":378,"acc":-0.105,"lab":"6.5"},{"km":378,"acc":-0.83,"lab":"5.5"},{"km":378,"acc":-1.599,"lab":"4.5"},{"km":378,"acc":-2.371,"lab":"3.5"},{"km":378,"acc":-3.154,"lab":"2.5"}
]},
"mark":{"type":"text","align":"left","baseline":"alphabetic","dx":-13,"fontSize":27,"color":"black"},
"encoding":{"text":{"field":"lab","type":"nominal"}}},
{"data":{"values":[
{"km":3.97,"acc":-1.286,"lab":"a=0.77889"},{"km":3.97,"acc":-1.636,"lab":"b=0.0025548"},{"km":3.97,"acc":-1.986,"lab":"d=1.3515"},{"km":3.97,"acc":-2.336,"lab":"c1=1.4775"},{"km":3.97,"acc":-2.686,"lab":"c2=1.1054"},{"km":3.97,"acc":-3.036,"lab":"e=−0.64469"}
]},
"mark":{"type":"text","align":"left","baseline":"alphabetic","fontSize":27,"color":"black"},
"encoding":{"text":{"field":"lab","type":"nominal"}}},
{"data":{"values":[{"km":236.6,"acc":2.334,"lab":"ROCK"}]},
"mark":{"type":"text","align":"center","baseline":"alphabetic","fontSize":56,"color":"black"},
"encoding":{"text":{"field":"lab","type":"nominal"}}}
],
"resolve":{"scale":{"color":"independent"}}
}
